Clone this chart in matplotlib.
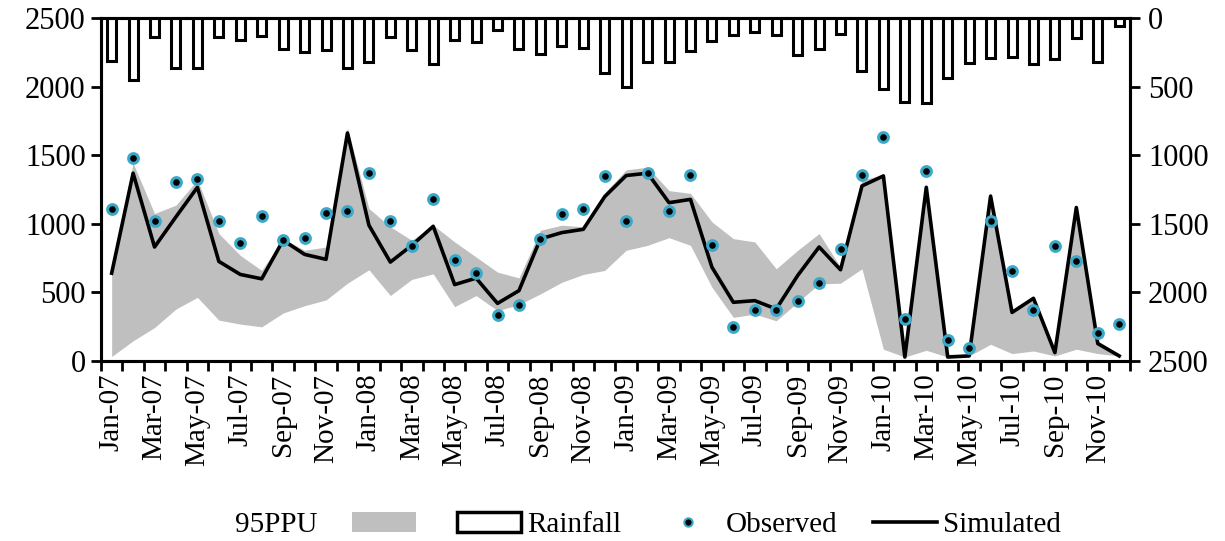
import numpy as np
import matplotlib
matplotlib.use("Agg")
import matplotlib.pyplot as plt
from matplotlib.patches import Patch, Rectangle
from matplotlib.lines import Line2D

months = ["Jan-07","Feb-07","Mar-07","Apr-07","May-07","Jun-07","Jul-07","Aug-07","Sep-07","Oct-07","Nov-07","Dec-07",
          "Jan-08","Feb-08","Mar-08","Apr-08","May-08","Jun-08","Jul-08","Aug-08","Sep-08","Oct-08","Nov-08","Dec-08",
          "Jan-09","Feb-09","Mar-09","Apr-09","May-09","Jun-09","Jul-09","Aug-09","Sep-09","Oct-09","Nov-09","Dec-09",
          "Jan-10","Feb-10","Mar-10","Apr-10","May-10","Jun-10","Jul-10","Aug-10","Sep-10","Oct-10","Nov-10","Dec-10"]

simulated = [640, 1369, 831, 1051, 1266, 726, 631, 599, 880, 777, 741, 1662,
             990, 721, 843, 982, 557, 604, 420, 513, 890, 936, 960, 1198,
             1352, 1369, 1154, 1178, 684, 428, 440, 379, 623, 831, 665, 1276,
             1349, 29, 1266, 29, 37, 1202, 354, 457, 61, 1119, 127, 37]

observed = [1105, 1481, 1019, 1303, 1330, 1019, 860, 1056, 880, 897, 1078, 1095,
            1369, 1019, 841, 1178, 738, 640, 332, 408, 890, 1075, 1105, 1352,
            1019, 1369, 1095, 1359, 848, 249, 371, 371, 435, 567, 814, 1359,
            1633, 303, 1386, 154, 98, 1019, 653, 371, 838, 731, 203, 269]

ppu_upper = [660, 1442, 1075, 1136, 1320, 929, 770, 660, 892, 807, 831, 1699,
             1112, 978, 880, 990, 868, 758, 648, 606, 953, 990, 978, 1227,
             1393, 1413, 1242, 1222, 1014, 892, 868, 672, 807, 929, 684, 1320,
             1357, 49, 1300, 49, 49, 1222, 367, 464, 73, 1136, 147, 49]

ppu_lower = [33, 147, 244, 379, 464, 298, 269, 249, 350, 403, 445, 567,
             665, 477, 595, 635, 396, 477, 367, 411, 489, 574, 631, 660,
             807, 843, 899, 843, 538, 318, 342, 293, 428, 562, 567, 672,
             86, 29, 78, 29, 37, 122, 54, 73, 37, 86, 54, 37]

rainfall = [313, 452, 142, 362, 362, 142, 161, 130, 227, 247, 235, 362,
            320, 142, 235, 337, 159, 178, 86, 227, 259, 203, 215, 403,
            501, 318, 318, 244, 166, 122, 100, 122, 271, 227, 117, 386,
            516, 613, 623, 435, 330, 293, 281, 337, 301, 149, 318, 56]

plt.rcParams['font.family'] = ['Liberation Serif', 'DejaVu Serif']

fig = plt.figure(figsize=(12.25, 5.41), dpi=100)
ax = fig.add_axes([0.0824, 0.3327, 0.84, 0.634])
x = np.arange(len(months))

gray = '#BFBFBF'
ax.fill_between(x, ppu_lower, ppu_upper, color=gray, lw=0, zorder=1)
ax.plot(x, simulated, color='black', lw=2.6, zorder=3)
ax.plot(x, observed, ls='none', marker='o', markersize=7, markerfacecolor='black',
        markeredgecolor='#3AA9C9', markeredgewidth=2.2, zorder=4)

ax.set_xlim(-0.5, len(months) - 0.5)
ax.set_ylim(0, 2500)
ax.set_yticks([0, 500, 1000, 1500, 2000, 2500])
ax.set_xticks(np.arange(-0.5, len(months), 1.0))
ax.set_xticklabels([])
ax.set_xticks(x[::2], minor=True)
ax.set_xticklabels(months[::2], minor=True, rotation=90)
ax.tick_params(axis='x', which='major', direction='out', length=7, width=2)
ax.tick_params(axis='x', which='minor', length=0, pad=9, labelsize=21)
ax.tick_params(axis='y', direction='out', length=7, width=2, labelsize=22, pad=4)
for s in ax.spines.values():
    s.set_linewidth(2.2)

ax2 = ax.twinx()
ax2.bar(x, rainfall, width=0.42, facecolor='white', edgecolor='black', linewidth=2.2, zorder=2)
ax2.set_ylim(2500, 0)
ax2.set_yticks([0, 500, 1000, 1500, 2000, 2500])
ax2.tick_params(axis='y', direction='out', length=7, width=2, labelsize=22, pad=6)
for s in ax2.spines.values():
    s.set_linewidth(2.2)

handles = [Line2D([], [], ls='none'),
           Patch(facecolor=gray, edgecolor='none'),
           Rectangle((0, 0), 1, 1, facecolor='white', edgecolor='black', linewidth=2.5),
           Line2D([], [], ls='none', marker='o', markersize=6, markerfacecolor='black',
                  markeredgecolor='#3AA9C9', markeredgewidth=1.5),
           Line2D([], [], color='black', lw=2.6)]
labels = ['95PPU', '', 'Rainfall', 'Observed', 'Simulated']
fig.legend(handles, labels, loc='center', bbox_to_anchor=(0.50, 0.03), ncol=5,
           frameon=False, fontsize=21, handlelength=2.2, handletextpad=0.2,
           columnspacing=1.2, borderaxespad=0)

fig.savefig('out.png', dpi=100)
